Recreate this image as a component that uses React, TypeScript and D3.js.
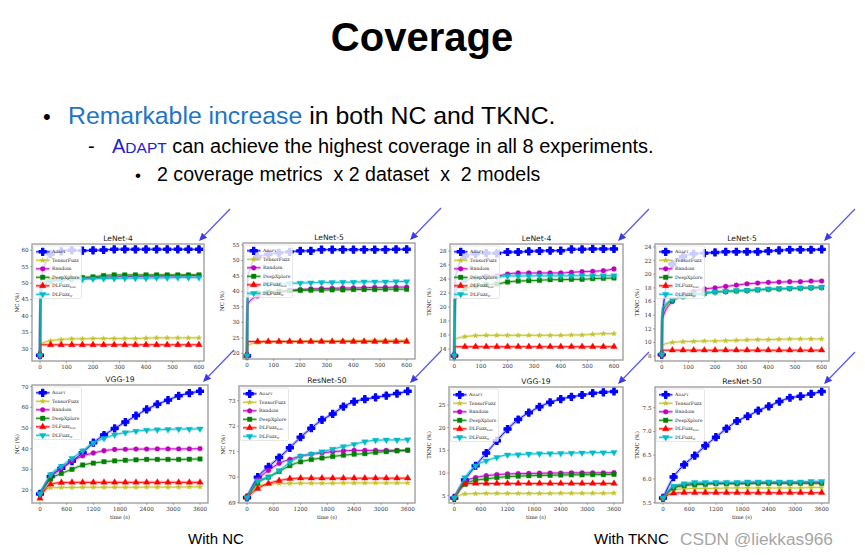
import React from 'react';
import * as d3 from 'd3';

// ---------- data ----------
const LENET_TIME = [0, 3, 40, 80, 120, 160, 200, 240, 280, 320, 360, 400, 440, 480, 520, 560, 600];
const LONG_TIME = [0, 240, 480, 720, 960, 1200, 1440, 1680, 1920, 2160, 2400, 2640, 2880, 3120, 3360, 3600];
const LENET_XTICKS = [0, 100, 200, 300, 400, 500, 600];
const LONG_XTICKS = [0, 600, 1200, 1800, 2400, 3000, 3600];

const METHODS = ['Adapt', 'TensorFuzz', 'Random', 'DeepXplore', 'DLFuzz_best', 'DLFuzz_rr'];

// LeNet-4, NC
const L4NC_ADAPT = [28, 50, 58.8, 59.7, 60.0, 59.9, 60.0, 60.1, 60.3, 60.3, 60.3, 60.3, 60.3, 60.3, 60.3, 60.3, 60.3];
const L4NC_TENSOR = [28, 31.5, 32.4, 32.8, 33.0, 33.0, 33.1, 33.1, 33.1, 33.1, 33.1, 33.2, 33.3, 33.3, 33.3, 33.3, 33.3];
const L4NC_RANDOM = [28, 47, 50.6, 51.0, 51.3, 51.5, 51.6, 51.8, 51.9, 52.0, 52.0, 52.1, 52.1, 52.2, 52.2, 52.3, 52.3];
const L4NC_DEEPX = [28, 49, 51.0, 51.3, 51.5, 51.7, 51.9, 52.3, 52.5, 52.5, 52.5, 52.5, 52.5, 52.5, 52.5, 52.5, 52.5];
const L4NC_DLBEST = [28, 31.2, 31.2, 31.2, 31.2, 31.2, 31.2, 31.2, 31.2, 31.2, 31.2, 31.2, 31.2, 31.2, 31.2, 31.2, 31.2];
const L4NC_DLRR = [28, 48, 50.5, 50.9, 51.1, 51.2, 51.3, 51.4, 51.4, 51.5, 51.5, 51.5, 51.6, 51.6, 51.7, 51.7, 51.7];

// LeNet-5, NC
const L5NC_ADAPT = [19.2, 45, 51.2, 52.0, 52.5, 52.8, 53.1, 53.1, 53.5, 53.5, 53.5, 53.5, 53.5, 53.5, 53.5, 53.6, 53.6];
const L5NC_TENSOR = [19.2, 22.5, 23.5, 23.7, 23.8, 23.9, 23.9, 24.0, 24.0, 24.0, 24.1, 24.1, 24.1, 24.2, 24.2, 24.2, 24.2];
const L5NC_RANDOM = [19.2, 36, 38.5, 39.3, 39.8, 40.3, 40.6, 40.8, 40.9, 41.0, 41.1, 41.1, 41.2, 41.3, 41.3, 41.4, 41.4];
const L5NC_DEEPX = [19.2, 38.5, 39.5, 39.8, 40.0, 40.2, 40.3, 40.4, 40.4, 40.5, 40.5, 40.6, 40.6, 40.6, 40.7, 40.7, 40.7];
const L5NC_DLBEST = [19.2, 23.8, 23.8, 23.8, 23.8, 23.8, 23.8, 23.8, 23.8, 23.8, 23.8, 23.8, 23.8, 23.8, 23.8, 23.8, 23.8];
const L5NC_DLRR = [19.2, 41, 42.0, 42.3, 42.4, 42.6, 42.7, 42.8, 42.9, 42.9, 43.0, 43.0, 43.1, 43.1, 43.1, 43.2, 43.2];

// LeNet-4, TKNC
const L4TK_ADAPT = [13.05, 24, 27.3, 27.6, 27.7, 27.67, 27.86, 27.86, 27.95, 28.0, 28.05, 28.05, 28.24, 28.24, 28.3, 28.3, 28.3];
const L4TK_TENSOR = [13.05, 15.43, 15.76, 15.9, 15.95, 15.95, 15.95, 15.95, 15.95, 15.95, 15.95, 15.95, 16.0, 16.0, 16.1, 16.19, 16.19];
const L4TK_RANDOM = [13.05, 22, 23.8, 24.2, 24.4, 24.43, 24.71, 24.86, 24.86, 24.86, 24.86, 24.86, 24.95, 25.05, 25.1, 25.19, 25.43];
const L4TK_DEEPX = [13.05, 21, 22.6, 23.0, 23.2, 23.29, 23.57, 23.71, 23.76, 23.81, 23.9, 23.9, 23.95, 23.95, 24.05, 24.1, 24.14];
const L4TK_DLBEST = [13.05, 14.33, 14.33, 14.33, 14.33, 14.33, 14.33, 14.33, 14.33, 14.33, 14.33, 14.33, 14.33, 14.33, 14.33, 14.33, 14.33];
const L4TK_DLRR = [13.05, 22.5, 23.9, 24.1, 24.2, 24.24, 24.43, 24.43, 24.43, 24.45, 24.45, 24.45, 24.45, 24.48, 24.48, 24.48, 24.48];

// LeNet-5, TKNC
const L5TK_ADAPT = [8.2, 14, 21.5, 22.6, 23.0, 23.1, 23.2, 23.3, 23.3, 23.3, 23.3, 23.4, 23.5, 23.6, 23.6, 23.6, 23.65];
const L5TK_TENSOR = [8.2, 9.6, 10.0, 10.1, 10.15, 10.2, 10.2, 10.25, 10.3, 10.35, 10.4, 10.4, 10.45, 10.5, 10.5, 10.5, 10.5];
const L5TK_RANDOM = [8.2, 13.5, 16.0, 17.0, 17.5, 17.84, 18.0, 18.2, 18.4, 18.6, 18.7, 18.8, 18.85, 18.9, 18.9, 19.0, 19.0];
const L5TK_DEEPX = [8.2, 14.5, 16.2, 16.7, 17.0, 17.2, 17.4, 17.45, 17.55, 17.6, 17.7, 17.8, 17.85, 17.9, 17.95, 18.0, 18.05];
const L5TK_DLBEST = [8.2, 8.85, 8.85, 8.85, 8.85, 8.85, 8.85, 8.85, 8.85, 8.85, 8.85, 8.85, 8.85, 8.85, 8.85, 8.85, 8.85];
const L5TK_DLRR = [8.2, 15, 16.3, 16.8, 17.0, 17.2, 17.4, 17.5, 17.6, 17.65, 17.75, 17.85, 17.9, 17.95, 18.0, 18.05, 18.1];

// VGG-19, NC
const VGNC_ADAPT = [18.1, 26.5, 30.5, 34.0, 38.0, 42.9, 46.6, 49.8, 52.9, 56.0, 59.0, 61.5, 63.5, 65.6, 66.9, 67.8];
const VGNC_TENSOR = [18.1, 21.1, 21.2, 21.2, 21.3, 21.3, 21.3, 21.3, 21.3, 21.3, 21.4, 21.4, 21.4, 21.4, 21.5, 21.5];
const VGNC_RANDOM = [18.1, 26.3, 30.5, 34.0, 36.5, 37.9, 39.0, 39.6, 39.7, 39.8, 39.8, 39.9, 39.9, 39.9, 39.9, 40.0];
const VGNC_DEEPX = [18.3, 25.3, 28.0, 30.0, 32.1, 33.0, 33.7, 34.1, 34.4, 34.6, 34.8, 34.8, 34.8, 34.8, 34.9, 35.0];
const VGNC_DLBEST = [16.0, 22.8, 23.6, 23.7, 23.7, 23.7, 23.7, 23.7, 23.7, 23.7, 23.7, 23.7, 23.7, 23.7, 23.7, 23.7];
const VGNC_DLRR = [18.1, 27.5, 31.5, 35.3, 39.0, 42.8, 45.0, 46.7, 47.8, 48.5, 49.0, 49.2, 49.3, 49.5, 49.5, 49.6];

// ResNet-50, NC
const RNNC_ADAPT = [69.2, 70.0, 70.4, 70.77, 71.15, 71.57, 71.92, 72.25, 72.48, 72.77, 72.96, 73.06, 73.13, 73.2, 73.28, 73.37];
const RNNC_TENSOR = [69.2, 69.65, 69.72, 69.75, 69.75, 69.76, 69.76, 69.76, 69.76, 69.77, 69.77, 69.77, 69.77, 69.77, 69.77, 69.77];
const RNNC_RANDOM = [69.2, 69.9, 70.26, 70.54, 70.7, 70.82, 70.9, 70.95, 71.0, 71.03, 71.05, 71.05, 71.05, 71.05, 71.05, 71.05];
const RNNC_DEEPX = [69.2, 69.77, 70.0, 70.22, 70.45, 70.6, 70.69, 70.75, 70.81, 70.86, 70.9, 70.92, 70.97, 71.0, 71.03, 71.06];
const RNNC_DLBEST = [69.2, 69.55, 69.75, 69.86, 69.94, 69.96, 69.96, 69.96, 69.96, 69.96, 69.96, 69.96, 69.96, 69.96, 69.96, 69.96];
const RNNC_DLRR = [69.2, 69.85, 70.0, 70.26, 70.58, 70.82, 70.9, 71.0, 71.1, 71.2, 71.29, 71.39, 71.45, 71.46, 71.46, 71.47];

// VGG-19, TKNC
const VGTK_ADAPT = [4.5, 8.46, 11.6, 14.4, 17.1, 19.7, 21.8, 23.3, 24.6, 25.6, 26.3, 26.8, 27.2, 27.6, 27.8, 28.0];
const VGTK_TENSOR = [4.5, 5.4, 5.45, 5.5, 5.5, 5.5, 5.5, 5.5, 5.5, 5.5, 5.55, 5.55, 5.55, 5.55, 5.55, 5.6];
const VGTK_RANDOM = [4.5, 8.1, 9.0, 9.4, 9.65, 9.8, 9.85, 9.9, 9.95, 10.0, 10.0, 10.05, 10.05, 10.05, 10.05, 10.07];
const VGTK_DEEPX = [4.5, 7.5, 8.4, 8.7, 9.0, 9.2, 9.3, 9.4, 9.45, 9.5, 9.55, 9.6, 9.6, 9.65, 9.65, 9.7];
const VGTK_DLBEST = [4.5, 7.6, 7.7, 7.7, 7.7, 7.7, 7.7, 7.7, 7.7, 7.7, 7.7, 7.7, 7.7, 7.7, 7.7, 7.7];
const VGTK_DLRR = [4.5, 9.0, 11.6, 12.7, 13.45, 14.0, 14.05, 14.2, 14.26, 14.3, 14.35, 14.4, 14.45, 14.5, 14.5, 14.56];

// ResNet-50, TKNC
const RNTK_ADAPT = [5.6, 6.04, 6.3, 6.49, 6.7, 6.88, 7.06, 7.22, 7.32, 7.44, 7.53, 7.63, 7.71, 7.74, 7.79, 7.84];
const RNTK_TENSOR = [5.6, 5.77, 5.79, 5.8, 5.8, 5.8, 5.81, 5.81, 5.81, 5.81, 5.81, 5.81, 5.81, 5.81, 5.82, 5.82];
const RNTK_RANDOM = [5.6, 5.83, 5.88, 5.9, 5.9, 5.91, 5.91, 5.91, 5.91, 5.92, 5.92, 5.92, 5.92, 5.92, 5.92, 5.92];
const RNTK_DEEPX = [5.6, 5.81, 5.86, 5.88, 5.89, 5.9, 5.9, 5.9, 5.9, 5.91, 5.91, 5.91, 5.91, 5.91, 5.91, 5.91];
const RNTK_DLBEST = [5.6, 5.7, 5.71, 5.71, 5.71, 5.71, 5.71, 5.71, 5.71, 5.71, 5.71, 5.71, 5.71, 5.71, 5.71, 5.71];
const RNTK_DLRR = [5.6, 5.85, 5.9, 5.93, 5.93, 5.93, 5.93, 5.93, 5.94, 5.94, 5.94, 5.94, 5.94, 5.94, 5.95, 5.95];

const YT_L4NC = [30, 35, 40, 45, 50, 55, 60];
const YT_L5NC = [20, 25, 30, 35, 40, 45, 50, 55];
const YT_L4TK = [14, 16, 18, 20, 22, 24, 26, 28];
const YT_L5TK = [8, 10, 12, 14, 16, 18, 20, 22, 24];
const YT_VGNC = [20, 30, 40, 50, 60, 70];
const YT_RNNC = [69, 70, 71, 72, 73];
const YT_VGTK = [5, 10, 15, 20, 25];
const YT_RNTK = [5.5, 6.0, 6.5, 7.0, 7.5];

// ---------- styles / layout ----------
const COLORS = ['#0000ff', '#c2c22a', '#bf00bf', '#008000', '#ff0000', '#00bcc8'];
const SYMBOLS = [d3.symbolCross, d3.symbolStar, d3.symbolCircle, d3.symbolSquare, d3.symbolTriangle, d3.symbolTriangle];
const SYM_SIZE = [28, 9, 18, 20, 18, 18];
const SYM_ROT = [0, 0, 0, 0, 0, 180];
const SYM_STROKE = [1.1, 0.4, 0.4, 0.4, 0.4, 0.4];

const CHARTS = [
  { title: 'LeNet-4', ylabel: 'NC (%)', frame: [32, 244, 204, 361], xPx: [40, 199], yVals: [30, 60], yPx: [348.7, 250.3], yTicks: YT_L4NC, xTicks: LENET_XTICKS, ylabelX: 19, time: LENET_TIME, skip: 1, xlabel: false, fmt: 'd',
    series: [L4NC_ADAPT, L4NC_TENSOR, L4NC_RANDOM, L4NC_DEEPX, L4NC_DLBEST, L4NC_DLRR] },
  { title: 'LeNet-5', ylabel: 'NC (%)', frame: [243, 243, 415, 359], xPx: [247, 406.7], yVals: [20, 55], yPx: [353.3, 245], yTicks: YT_L5NC, xTicks: LENET_XTICKS, ylabelX: 224, time: LENET_TIME, skip: 1, xlabel: false, fmt: 'd',
    series: [L5NC_ADAPT, L5NC_TENSOR, L5NC_RANDOM, L5NC_DEEPX, L5NC_DLBEST, L5NC_DLRR] },
  { title: 'LeNet-4', ylabel: 'TKNC (%)', frame: [450, 244, 623, 360], xPx: [454.3, 614], yVals: [14, 28], yPx: [349, 251], yTicks: YT_L4TK, xTicks: LENET_XTICKS, ylabelX: 431, time: LENET_TIME, skip: 1, xlabel: false, fmt: 'd',
    series: [L4TK_ADAPT, L4TK_TENSOR, L4TK_RANDOM, L4TK_DEEPX, L4TK_DLBEST, L4TK_DLRR] },
  { title: 'LeNet-5', ylabel: 'TKNC (%)', frame: [655, 244, 829, 361], xPx: [661.7, 821.7], yVals: [8, 24], yPx: [356, 247], yTicks: YT_L5TK, xTicks: LENET_XTICKS, ylabelX: 639, time: LENET_TIME, skip: 1, xlabel: false, fmt: 'd',
    series: [L5TK_ADAPT, L5TK_TENSOR, L5TK_RANDOM, L5TK_DEEPX, L5TK_DLBEST, L5TK_DLRR] },
  { title: 'VGG-19', ylabel: 'NC (%)', frame: [32, 385, 208, 503], xPx: [40, 200], yVals: [20, 70], yPx: [490, 386.7], yTicks: YT_VGNC, xTicks: LONG_XTICKS, ylabelX: 19, time: LONG_TIME, skip: -1, xlabel: true, fmt: 'd',
    series: [VGNC_ADAPT, VGNC_TENSOR, VGNC_RANDOM, VGNC_DEEPX, VGNC_DLBEST, VGNC_DLRR] },
  { title: 'ResNet-50', ylabel: 'NC (%)', frame: [239, 386, 415, 503], xPx: [247, 407.7], yVals: [69, 73], yPx: [502.6, 400.7], yTicks: YT_RNNC, xTicks: LONG_XTICKS, ylabelX: 225, time: LONG_TIME, skip: -1, xlabel: true, fmt: 'd',
    series: [RNNC_ADAPT, RNNC_TENSOR, RNNC_RANDOM, RNNC_DEEPX, RNNC_DLBEST, RNNC_DLRR] },
  { title: 'VGG-19', ylabel: 'TKNC (%)', frame: [449, 387, 623, 503], xPx: [454.3, 614], yVals: [5, 25], yPx: [495.7, 405], yTicks: YT_VGTK, xTicks: LONG_XTICKS, ylabelX: 431, time: LONG_TIME, skip: -1, xlabel: true, fmt: 'd',
    series: [VGTK_ADAPT, VGTK_TENSOR, VGTK_RANDOM, VGTK_DEEPX, VGTK_DLBEST, VGTK_DLRR] },
  { title: 'ResNet-50', ylabel: 'TKNC (%)', frame: [655, 387, 829, 503], xPx: [663, 821.7], yVals: [5.5, 7.5], yPx: [502.7, 407.7], yTicks: YT_RNTK, xTicks: LONG_XTICKS, ylabelX: 639, time: LONG_TIME, skip: -1, xlabel: true, fmt: '.1f',
    series: [RNTK_ADAPT, RNTK_TENSOR, RNTK_RANDOM, RNTK_DEEPX, RNTK_DLBEST, RNTK_DLRR] },
];

const SERIF = "'DejaVu Serif', 'Liberation Serif', serif";
const SANS = "'Liberation Sans', Arial, sans-serif";

function Marker({ i, x, y }: { i: number; x: number; y: number }) {
  const d = d3.symbol().type(SYMBOLS[i]).size(SYM_SIZE[i])() as string;
  return <path d={d} transform={`translate(${x},${y}) rotate(${SYM_ROT[i]})`} fill={COLORS[i]} stroke={COLORS[i]} strokeWidth={SYM_STROKE[i]} strokeLinejoin="round" />;
}

function LegendLabel({ i, x, y }: { i: number; x: number; y: number }) {
  const fs = 4.6;
  if (i === 0) {
    return (
      <text x={x} y={y} fontSize={fs} fontFamily={SERIF} fill="#222">
        A<tspan fontSize={fs * 0.78}>DAPT</tspan>
      </text>
    );
  }
  if (i === 4 || i === 5) {
    return (
      <text x={x} y={y} fontSize={fs} fontFamily={SERIF} fill="#222">
        DLFuzz<tspan fontSize={fs * 0.6} dy={1}>{i === 4 ? 'best' : 'rr'}</tspan>
      </text>
    );
  }
  return <text x={x} y={y} fontSize={fs} fontFamily={SERIF} fill="#222">{METHODS[i]}</text>;
}

function Arrow({ hx, hy }: { hx: number; hy: number }) {
  const tx = hx + 31;
  const ty = hy - 32;
  const ang = Math.atan2(hy - ty, hx - tx);
  const len = 8;
  const w = 3.6;
  const bx = hx - len * Math.cos(ang);
  const by = hy - len * Math.sin(ang);
  const px = -Math.sin(ang) * w;
  const py = Math.cos(ang) * w;
  return (
    <g>
      <line x1={tx} y1={ty} x2={bx} y2={by} stroke="#5b5bea" strokeWidth={1.3} />
      <path d={`M${hx},${hy}L${bx + px},${by + py}L${bx - px},${by - py}Z`} fill="#3a3ae6" />
    </g>
  );
}

function Chart({ cfg }: { cfg: any }) {
  const [L, T, R, B] = cfg.frame;
  const xMax = cfg.time[cfg.time.length - 1];
  const x = d3.scaleLinear().domain([0, xMax]).range(cfg.xPx);
  const y = d3.scaleLinear().domain(cfg.yVals).range(cfg.yPx);
  const line = d3.line<number>().x((_, k) => x(cfg.time[k])).y((v) => y(v)).curve(d3.curveMonotoneX);
  const fmt = d3.format(cfg.fmt);
  const cx = (L + R) / 2;
  const cy = (T + B) / 2;
  const lgX = L + 1.5;
  const lgY = T + 2;
  return (
    <g>
      <rect x={L} y={T} width={R - L} height={B - T} fill="#fff" />
      {cfg.series.map((s: number[], i: number) => (
        <g key={i}>
          <path d={line(s) as string} fill="none" stroke={COLORS[i]} strokeWidth={3} strokeOpacity={0.28} />
          <path d={line(s) as string} fill="none" stroke={COLORS[i]} strokeWidth={0.9} />
          {s.map((v, k) => (k === cfg.skip ? null : <Marker key={k} i={i} x={x(cfg.time[k])} y={y(v)} />))}
        </g>
      ))}
      <rect x={L} y={T} width={R - L} height={B - T} fill="none" stroke="#a0a0a0" strokeWidth={1.4} />
      {cfg.yTicks.map((t: number) => (
        <g key={t}>
          <line x1={L - 2} x2={L} y1={y(t)} y2={y(t)} stroke="#666" strokeWidth={0.5} />
          <text x={L - 3.5} y={y(t) + 1.9} fontSize={5.6} fontFamily={SERIF} textAnchor="end" fill="#333">{fmt(t)}</text>
        </g>
      ))}
      {cfg.xTicks.map((t: number) => (
        <g key={t}>
          <line x1={x(t)} x2={x(t)} y1={B} y2={B + 2} stroke="#666" strokeWidth={0.5} />
          <text x={x(t)} y={B + 8} fontSize={5.6} fontFamily={SERIF} textAnchor="middle" fill="#333">{t}</text>
        </g>
      ))}
      <text x={cx} y={T - 3} fontSize={7.6} fontFamily="'DejaVu Sans', sans-serif" textAnchor="middle" fill="#222">{cfg.title}</text>
      <text transform={`translate(${cfg.ylabelX},${cy}) rotate(-90)`} fontSize={5.4} fontFamily={SERIF} textAnchor="middle" fill="#222">{cfg.ylabel}</text>
      {cfg.xlabel && (
        <text x={cx} y={B + 15.5} fontSize={5.2} fontFamily={SERIF} textAnchor="middle" fill="#222">time (s)</text>
      )}
      <rect x={lgX} y={lgY} width={48} height={52.5} rx={1.5} fill="#fff" fillOpacity={0.8} stroke="#cfcfcf" strokeWidth={0.5} />
      {METHODS.map((m, i) => {
        const ry = lgY + 5.8 + i * 8.5;
        return (
          <g key={m}>
            <line x1={lgX + 2.5} x2={lgX + 16} y1={ry} y2={ry} stroke={COLORS[i]} strokeWidth={0.9} />
            <line x1={lgX + 2.5} x2={lgX + 16} y1={ry} y2={ry} stroke={COLORS[i]} strokeWidth={3} strokeOpacity={0.28} />
            <Marker i={i} x={lgX + 9.2} y={ry} />
            <LegendLabel i={i} x={lgX + 18.5} y={ry + 1.6} />
          </g>
        );
      })}
      <Arrow hx={R - 5} hy={T - 3} />
    </g>
  );
}

export default function App() {
  return (
    <svg width={865} height={555} style={{ position: 'absolute', left: 0, top: 0, background: '#fff' }}>
      <rect x={0} y={0} width={865} height={555} fill="#fff" />
      <text x={422} y={51} fontSize={40} fontWeight="bold" fontFamily={SANS} textAnchor="middle" fill="#000">Coverage</text>
      <text x={43} y={124} fontSize={22} fontFamily={SANS} fill="#000">•</text>
      <text x={68} y={124} fontSize={24.8} fontFamily={SANS} fill="#000">
        <tspan fill="#1f74c6">Remarkable increase</tspan> in both NC and TKNC.
      </text>
      <text x={88} y={153} fontSize={20} fontFamily={SANS} fill="#000">-</text>
      <text x={112} y={153} fontSize={20} fontFamily={SANS} fill="#000">
        <tspan fill="#2222cc">A</tspan><tspan fill="#2222cc" fontSize={15.5}>DAPT</tspan> can achieve the highest coverage in all 8 experiments.
      </text>
      <text x={135} y={181} fontSize={17} fontFamily={SANS} fill="#000">•</text>
      <text x={157} y={181} fontSize={19.6} fontFamily={SANS} fill="#000" style={{ whiteSpace: 'pre' }}>2 coverage metrics  x 2 dataset  x  2 models</text>
      {CHARTS.map((c, i) => <Chart key={i} cfg={c} />)}
      <text x={188} y={543.5} fontSize={15} fontFamily={SANS} fill="#000">With NC</text>
      <text x={594} y={543.5} fontSize={15} fontFamily={SANS} fill="#000">With TKNC</text>
      <text x={680} y={544.5} fontSize={17.3} fontFamily={SANS} fill="#a6a6a6">CSDN @liekkas966</text>
    </svg>
  );
}
